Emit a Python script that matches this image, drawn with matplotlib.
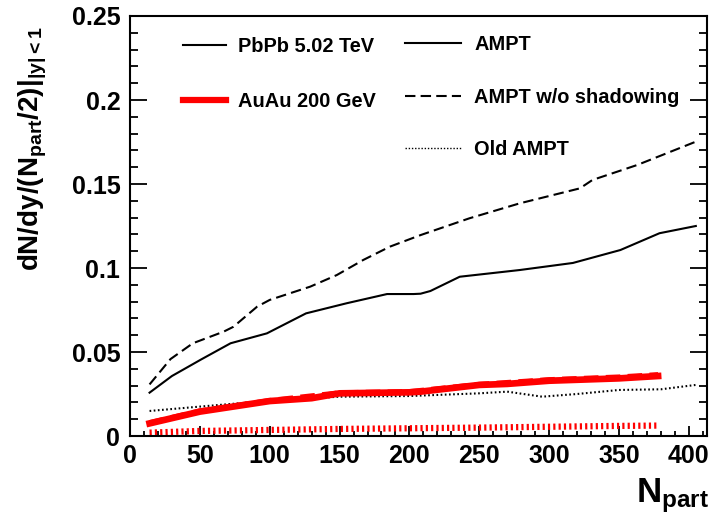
import numpy as np
import matplotlib
matplotlib.use("Agg")
import matplotlib.pyplot as plt
from matplotlib.lines import Line2D
from matplotlib.ticker import MultipleLocator, FuncFormatter

plt.rcParams['font.family'] = ['Liberation Sans', 'DejaVu Sans']
plt.rcParams['font.weight'] = 'bold'
plt.rcParams['mathtext.fontset'] = 'custom'
plt.rcParams['mathtext.bf'] = 'Liberation Sans:bold'
plt.rcParams['mathtext.rm'] = 'Liberation Sans:bold'
plt.rcParams['mathtext.it'] = 'Liberation Sans:bold'

# PbPb 5.02 TeV
pb_ampt_x = [14, 30, 51, 72, 98, 126, 155, 184, 203, 208, 215, 236, 279, 317, 351, 379, 405]
pb_ampt_y = [0.0258, 0.0357, 0.0456, 0.0552, 0.0611, 0.073, 0.079, 0.0845, 0.0845, 0.0847,
             0.0863, 0.0948, 0.0988, 0.103, 0.1107, 0.1207, 0.125]
pb_noshad_x = [14, 29, 45, 67, 74, 91, 100, 129, 148, 167, 186, 208, 243, 279, 322, 331, 363, 405]
pb_noshad_y = [0.0307, 0.0458, 0.0552, 0.0621, 0.065, 0.077, 0.081, 0.0889, 0.0958, 0.1048,
               0.1127, 0.1196, 0.1296, 0.1385, 0.1474, 0.1524, 0.1613, 0.1752]
pb_old_x = [14, 50, 100, 150, 200, 250, 270, 295, 320, 350, 380, 405]
pb_old_y = [0.0149, 0.0175, 0.021, 0.0234, 0.0238, 0.0254, 0.0264, 0.0234, 0.025, 0.0274,
            0.0278, 0.0304]

# AuAu 200 GeV
au_ampt_x = [14, 50, 100, 130, 150, 200, 208, 250, 270, 300, 350, 378]
au_ampt_y = [0.0075, 0.0145, 0.0208, 0.0225, 0.0254, 0.026, 0.0264, 0.0304, 0.031, 0.0329,
             0.0343, 0.0357]
au_noshad_x = [14, 50, 100, 150, 200, 250, 300, 350, 378]
au_noshad_y = [0.0080, 0.0150, 0.0212, 0.0258, 0.0265, 0.0308, 0.0336, 0.0352, 0.0366]
au_old_x = [14, 50, 100, 150, 200, 250, 300, 350, 378]
au_old_y = [0.002, 0.003, 0.0036, 0.0042, 0.0046, 0.005, 0.0055, 0.006, 0.0062]

fig = plt.figure(figsize=(7.19, 5.15), dpi=100)
ax = fig.add_axes([130/719, 1-436/515, 577/719, 420/515])

ax.plot(pb_ampt_x, pb_ampt_y, color='black', lw=1.5)
ax.plot(pb_noshad_x, pb_noshad_y, color='black', lw=1.5, ls=(0, (5, 2.5)))
ax.plot(pb_old_x, pb_old_y, color='black', lw=1.5, ls=(0, (0.8, 1.2)))

ax.plot(au_ampt_x, au_ampt_y, color='red', lw=4.8)
ax.plot(au_noshad_x, au_noshad_y, color='red', lw=3.5, ls=(0, (3, 1.5)))
ax.plot(au_old_x, au_old_y, color='red', lw=4.5, ls=(0, (0.35, 0.5)))

ax.set_xlim(0, 413)
ax.set_ylim(0, 0.25)
ax.xaxis.set_major_locator(MultipleLocator(50))
ax.xaxis.set_minor_locator(MultipleLocator(10))
ax.yaxis.set_major_locator(MultipleLocator(0.05))
ax.yaxis.set_minor_locator(MultipleLocator(0.01))
ax.yaxis.set_major_formatter(FuncFormatter(lambda v, p: '%g' % round(v, 3)))
ax.tick_params(axis='both', which='both', direction='in', width=1.3, labelsize=18)
ax.tick_params(axis='y', which='major', length=12, right=True, pad=7)
ax.tick_params(axis='y', which='minor', length=6, right=True)
ax.tick_params(axis='x', which='major', length=7.5, top=False, pad=6)
ax.tick_params(axis='x', which='minor', length=3.8, top=False)
for s in ax.spines.values():
    s.set_linewidth(1.5)
for lab in ax.get_xticklabels() + ax.get_yticklabels():
    lab.set_fontweight('bold')

ax.set_ylabel(r'$\mathbf{dN/dy/(N_{part}/2)|_{|y|<1}}$', fontsize=20, loc='top')
ax.yaxis.set_label_coords(-0.14, 0.975)
ax.set_xlabel(r'$\mathbf{N_{part}}$', fontsize=25, loc='right')
ax.xaxis.set_label_coords(1.003, -0.095)

h1 = [Line2D([], [], color='black', lw=1.5), Line2D([], [], color='red', lw=4.5)]
leg1 = ax.legend(h1, ['PbPb 5.02 TeV', 'AuAu 200 GeV'], loc='upper left',
                 bbox_to_anchor=(0.092, 0.95),  frameon=False,
                 handlelength=2.15, handletextpad=0.6, labelspacing=1.8,
                 borderpad=0, borderaxespad=0, prop={'weight': 'bold', 'size': 14.4})
ax.add_artist(leg1)
h2 = [Line2D([], [], color='black', lw=1.5),
      Line2D([], [], color='black', lw=1.5, ls=(0, (5, 2.5))),
      Line2D([], [], color='black', lw=1.0, ls=(0, (1, 1.3)))]
ax.legend(h2, ['AMPT', 'AMPT w/o shadowing', 'Old AMPT'], loc='upper left',
          bbox_to_anchor=(0.477, 0.955), frameon=False,
          handlelength=2.8, handletextpad=0.65, labelspacing=1.68,
          borderpad=0, borderaxespad=0, prop={'weight': 'bold', 'size': 14.4})

fig.savefig('out.png', dpi=100)
